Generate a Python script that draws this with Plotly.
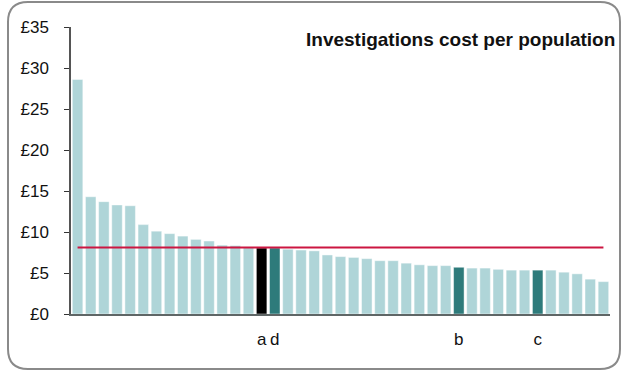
import plotly.graph_objects as go

# ---- data ----
labels = [""] * 14 + ["a", "d"] + [""] * 13 + ["b"] + [""] * 5 + ["c"] + [""] * 5
values = [28.6, 14.3, 13.7, 13.3, 13.2, 10.9, 10.1, 9.8, 9.5, 9.1, 8.9, 8.4, 8.35, 8.1,
          8.05, 8.05, 7.9, 7.8, 7.7, 7.2, 7.0, 6.9, 6.75, 6.5, 6.5, 6.2, 6.0, 5.9,
          5.9, 5.7, 5.6, 5.6, 5.45, 5.35, 5.35, 5.35, 5.35, 5.1, 4.9, 4.25, 3.95]
average = 8.1
highlight = {"a": "black", "d": "teal", "b": "teal", "c": "teal"}
title_text = "Investigations cost per population"
y_ticks = [0, 5, 10, 15, 20, 25, 30, 35]
y_tick_labels = ["£" + str(v) for v in y_ticks]

LIGHT = "#AFD5D8"
DARK = "#2E7B7B"
BLACK = "#000000"
RED = "#CC1641"

colors = []
for lab in labels:
    h = highlight.get(lab)
    colors.append(BLACK if h == "black" else DARK if h == "teal" else LIGHT)

idx = list(range(len(values)))

fig = go.Figure()
fig.add_trace(go.Bar(x=idx, y=values, marker=dict(color=colors, line=dict(color="rgba(255,255,255,0.45)", width=1)),
                     hoverinfo="skip"))
fig.add_trace(go.Scatter(x=idx, y=[average] * len(idx), mode="lines",
                         line=dict(color=RED, width=2), hoverinfo="skip"))

W, H = 623, 371
ml, mr, mt, mb = 71, 13, 27, 57
pw, ph = W - ml - mr, H - mt - mb

def px(x):
    return (x - ml) / pw

def py(y):
    return (H - mb - y) / ph

# rounded frame
x0, x1, y0, y1, r = 8, 620, 2, 369, 20
path = (f"M {px(x0 + r)},{py(y0)} L {px(x1 - r)},{py(y0)} Q {px(x1)},{py(y0)} {px(x1)},{py(y0 + r)} "
        f"L {px(x1)},{py(y1 - r)} Q {px(x1)},{py(y1)} {px(x1 - r)},{py(y1)} "
        f"L {px(x0 + r)},{py(y1)} Q {px(x0)},{py(y1)} {px(x0)},{py(y1 - r)} "
        f"L {px(x0)},{py(y0 + r)} Q {px(x0)},{py(y0)} {px(x0 + r)},{py(y0)} Z")
fig.add_shape(type="path", path=path, xref="paper", yref="paper",
              line=dict(color="#8A8A8A", width=2), layer="below")

fig.add_annotation(text="<b>" + title_text + "</b>", xref="paper", yref="paper",
                   x=px(617), y=py(40), xanchor="right", yanchor="middle", showarrow=False,
                   font=dict(family="Liberation Sans, Arial, sans-serif", size=19, color="#111111"))

fig.update_layout(
    width=W, height=H, margin=dict(l=ml, r=mr, t=mt, b=mb),
    paper_bgcolor="white", plot_bgcolor="white", showlegend=False, bargap=0.2,
    font=dict(family="Liberation Sans, Arial, sans-serif", size=17, color="#111111"),
)
fig.update_xaxes(range=[-0.5, len(values) - 0.5], tickmode="array", tickvals=idx, ticktext=labels,
                 showgrid=False, zeroline=False, showline=True, linecolor="#5F6666", linewidth=2,
                 ticks="", ticklabelstandoff=9, tickfont=dict(size=17))
fig.update_yaxes(range=[0, 35], tickmode="array", tickvals=y_ticks, ticktext=y_tick_labels,
                 showgrid=False, zeroline=False, showline=True, linecolor="#555555", linewidth=1.5,
                 ticks="outside", ticklen=5, tickcolor="#333333", tickwidth=1.2,
                 ticklabelstandoff=12, tickfont=dict(size=17))

fig.write_html("out.html", config={"displayModeBar": False},
               post_script="document.body.style.margin='0px';document.body.style.overflow='hidden';")
